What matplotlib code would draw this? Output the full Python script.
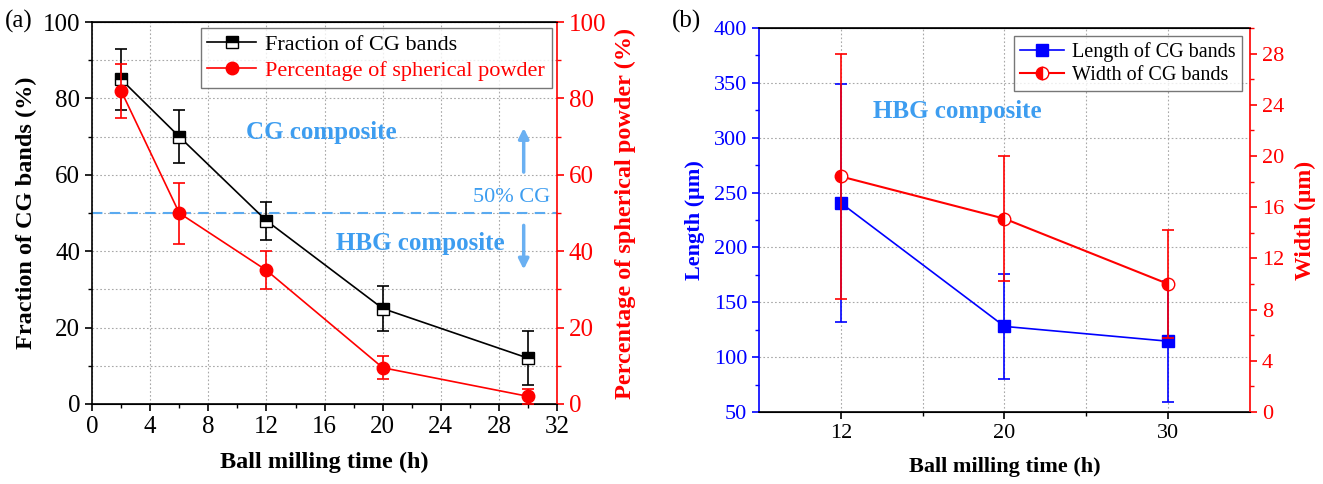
import numpy as np
import matplotlib
matplotlib.use('Agg')
import matplotlib.pyplot as plt
from matplotlib.ticker import MultipleLocator, FixedLocator

plt.rcParams['font.family'] = ['Liberation Serif', 'DejaVu Serif']
plt.rcParams['mathtext.fontset'] = 'stix'

# (a) fraction of CG bands and spherical powder vs milling time
time_a = [2, 6, 12, 20, 30]
cg_fraction = [85, 70, 48, 25, 12]
cg_fraction_err = [8, 7, 5, 6, 7]
spherical = [82, 50, 35, 9.5, 2]
spherical_err = [7, 8, 5, 3, 2]

# (b) CG band length and width
time_b = ['12', '20', '30']
band_length = [240.5, 128, 114.5]
band_length_err = [108.5, 48, 55]
band_width = [18.4, 15.1, 10.0]
band_width_err = [9.6, 4.9, 4.2]

light_blue = '#3d9df0'
grid_kw = dict(color='#a8a8a8', linestyle=(0, (1.5, 2)), linewidth=0.8)

fig = plt.figure(figsize=(13.23, 4.84), dpi=100)

# ---------------- panel (a) ----------------
ax1 = fig.add_axes([0.0696, 0.1653, 0.3515, 0.789])
ax2 = ax1.twinx()

h1 = ax1.errorbar(time_a, cg_fraction, yerr=cg_fraction_err, color='black', lw=1.2,
                  marker='s', ms=8, mfc='black', mfcalt='white', fillstyle='top',
                  mec='black', capsize=4, elinewidth=1.2, capthick=1.2,
                  label='Fraction of CG bands', zorder=3)
h2 = ax2.errorbar(time_a, spherical, yerr=spherical_err, color='red', lw=1.2,
                  marker='o', ms=9, mfc='red', mec='red', capsize=4,
                  elinewidth=1.2, capthick=1.2,
                  label='Percentage of spherical powder', zorder=3)

ax1.set_xlim(0, 32)
ax1.set_ylim(0, 100)
ax2.set_ylim(0, 100)
ax1.xaxis.set_major_locator(MultipleLocator(4))
ax1.xaxis.set_minor_locator(MultipleLocator(2))
ax1.yaxis.set_major_locator(MultipleLocator(20))
ax1.yaxis.set_minor_locator(MultipleLocator(10))
ax2.yaxis.set_major_locator(MultipleLocator(20))
ax2.yaxis.set_minor_locator(MultipleLocator(10))

ax1.grid(True, which='major', axis='x', **grid_kw)
ax1.grid(True, which='both', axis='y', **grid_kw)
ax1.set_axisbelow(True)

ax1.tick_params(axis='both', which='major', labelsize=18, length=5, width=1.2, direction='out')
ax1.tick_params(axis='both', which='minor', length=3, width=1.0, direction='out')
ax2.tick_params(axis='y', which='major', labelsize=18, length=5, width=1.2,
                colors='red', direction='out')
ax2.tick_params(axis='y', which='minor', length=3, width=1.0, colors='red', direction='out')
for s in ['left', 'bottom', 'top']:
    ax1.spines[s].set_linewidth(1.2)
ax2.spines['right'].set_color('red')
ax2.spines['right'].set_linewidth(1.2)
ax2.spines['left'].set_visible(False)
ax1.spines['right'].set_visible(False)

ax1.set_xlabel('Ball milling time (h)', fontsize=17.5, fontweight='bold', labelpad=10)
ax1.set_ylabel('Fraction of CG bands (%)', fontsize=17.5, fontweight='bold', labelpad=4)
ax2.set_ylabel('Percentage of spherical powder (%)', fontsize=17.5, fontweight='bold',
               color='red', labelpad=6)

ax1.axhline(50, color='#5aaaf0', lw=1.5, ls=(0, (5, 3.5)), zorder=2)
ax1.text(31.5, 54.2, '50% CG', color=light_blue, fontsize=16, ha='right', va='center')
ax1.text(15.8, 71, 'CG composite', color=light_blue, fontsize=18, fontweight='bold',
         ha='center', va='center')
ax1.text(22.6, 42, 'HBG composite', color=light_blue, fontsize=18, fontweight='bold',
         ha='center', va='center')
ax1.annotate('', xy=(29.7, 73), xytext=(29.7, 60),
             arrowprops=dict(arrowstyle='-|>,head_width=0.3,head_length=0.6',
                             color='#6ab0f2', lw=2.5))
ax1.annotate('', xy=(29.7, 34.5), xytext=(29.7, 47.5),
             arrowprops=dict(arrowstyle='-|>,head_width=0.3,head_length=0.6',
                             color='#6ab0f2', lw=2.5))

# legend shows only the line + marker, no error bar
leg1 = ax2.legend(handles=[h1[0], h2[0]],
                  labels=['Fraction of CG bands', 'Percentage of spherical powder'],
                  loc='upper right', fontsize=16,
                  frameon=True, fancybox=False, edgecolor='#555555',
                  borderaxespad=0.25, handlelength=2.2, borderpad=0.3,
                  labelspacing=0.25, handletextpad=0.4)
leg1.get_frame().set_linewidth(1.0)
leg1.get_texts()[1].set_color('red')

fig.text(0.004, 0.955, '(a)', fontsize=18, va='center', ha='left')

# ---------------- panel (b) ----------------
bx1 = fig.add_axes([0.5737, 0.1488, 0.3711, 0.7934])
bx2 = bx1.twinx()
pos = np.arange(1, len(time_b) + 1)

g1 = bx1.errorbar(pos, band_length, yerr=band_length_err, color='blue', lw=1.2,
                  marker='s', ms=8, mfc='blue', mec='blue', capsize=4,
                  elinewidth=1.2, capthick=1.2, label='Length of CG bands', zorder=3)
g2 = bx2.errorbar(pos, band_width, yerr=band_width_err, color='red', lw=1.5,
                  marker='o', ms=9, mfc='red', mfcalt='white', fillstyle='left',
                  mec='red', capsize=4, elinewidth=1.2, capthick=1.2,
                  label='Width of CG bands', zorder=3)

bx1.set_xlim(0.5, 3.5)
bx1.set_xticks(pos)
bx1.set_xticklabels(time_b)
bx1.xaxis.set_minor_locator(FixedLocator([1.5, 2.5]))
bx1.set_ylim(50, 400)
bx1.yaxis.set_major_locator(MultipleLocator(50))
bx1.yaxis.set_minor_locator(MultipleLocator(25))
bx2.set_ylim(0, 30)
bx2.yaxis.set_major_locator(MultipleLocator(4))
bx2.yaxis.set_minor_locator(MultipleLocator(2))

bx1.grid(True, which='both', axis='x', **grid_kw)
bx1.grid(True, which='major', axis='y', **grid_kw)
bx1.set_axisbelow(True)

bx1.tick_params(axis='x', which='major', labelsize=16, length=5, width=1.2, direction='out')
bx1.tick_params(axis='x', which='minor', length=3, width=1.0, direction='out')
bx1.tick_params(axis='y', which='major', labelsize=16, length=5, width=1.2,
                colors='blue', direction='out')
bx1.tick_params(axis='y', which='minor', length=3, width=1.0, colors='blue', direction='out')
bx2.tick_params(axis='y', which='major', labelsize=16, length=5, width=1.2,
                colors='red', direction='out')
bx2.tick_params(axis='y', which='minor', length=3, width=1.0, colors='red', direction='out')
bx1.spines['left'].set_color('blue')
bx1.spines['left'].set_linewidth(1.2)
bx1.spines['bottom'].set_linewidth(1.2)
bx1.spines['top'].set_linewidth(1.2)
bx1.spines['right'].set_visible(False)
bx2.spines['left'].set_visible(False)
bx2.spines['right'].set_color('red')
bx2.spines['right'].set_linewidth(1.2)

bx1.set_xlabel('Ball milling time (h)', fontsize=16, fontweight='bold', labelpad=10)
bx1.set_ylabel('Length (\u03bcm)', fontsize=16, fontweight='bold', color='blue', labelpad=6)
bx2.set_ylabel('Width (\u03bcm)', fontsize=17, fontweight='bold', color='red', labelpad=8)

bx1.text(1.71, 324, 'HBG composite', color=light_blue, fontsize=18, fontweight='bold',
         ha='center', va='center')

leg2 = bx2.legend(handles=[g1[0], g2[0]],
                  labels=['Length of CG bands', 'Width of CG bands'],
                  loc='upper right', fontsize=14.5,
                  frameon=True, fancybox=False, edgecolor='#555555',
                  borderaxespad=0.4, handlelength=2.2, borderpad=0.3,
                  labelspacing=0.2, handletextpad=0.4)
leg2.get_frame().set_linewidth(1.0)

fig.text(0.508, 0.955, '(b)', fontsize=18, va='center', ha='left')

fig.savefig('out.png', dpi=100)
